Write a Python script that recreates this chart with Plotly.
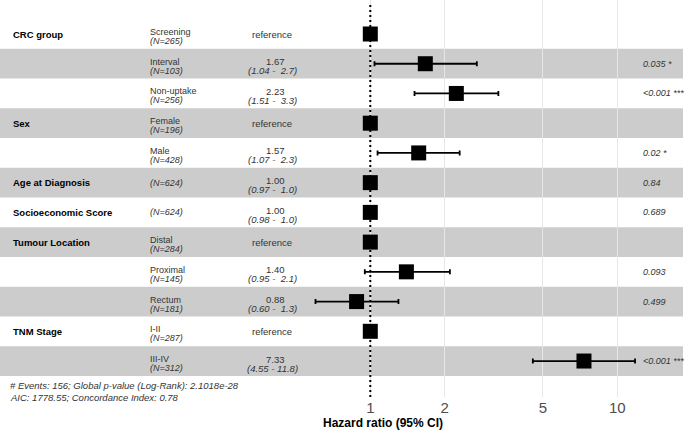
import math
import plotly.graph_objects as go

# ---- data ----
variables = ["CRC group", "", "", "Sex", "", "Age at Diagnosis", "Socioeconomic Score",
             "Tumour Location", "", "", "TNM Stage", ""]
levels = ["Screening", "Interval", "Non-uptake", "Female", "Male", "", "",
          "Distal", "Proximal", "Rectum", "I-II", "III-IV"]
n_obs = [265, 103, 256, 196, 428, 624, 624, 284, 145, 181, 287, 312]
hr = [1.00, 1.67, 2.23, 1.00, 1.57, 1.00, 1.00, 1.00, 1.40, 0.88, 1.00, 7.33]
ci_low = [None, 1.04, 1.51, None, 1.07, 0.97, 0.98, None, 0.95, 0.60, None, 4.55]
ci_high = [None, 2.7, 3.3, None, 2.3, 1.0, 1.0, None, 2.1, 1.3, None, 11.8]
p_labels = ["", "0.035 *", "<0.001 ***", "", "0.02 *", "0.84", "0.689", "",
            "0.093", "0.499", "", "<0.001 ***"]
tick_vals = [1, 2, 5, 10]
footnote = ["# Events: 156; Global p-value (Log-Rank): 2.1018e-28",
            "AIC: 1778.55; Concordance Index: 0.78"]
x_title = "Hazard ratio (95% CI)"

# ---- layout geometry ----
W, H = 688, 433
PLOT_BOTTOM = 397            # pixel y of plot-area bottom
PX_ONE, PX_PER_DEC = 370.3, 247.0
x_range = [(0 - PX_ONE) / PX_PER_DEC, (W - PX_ONE) / PX_PER_DEC]
ROW0, ROWH = 34.0, 29.73
y_range = [1 + (PLOT_BOTTOM - ROW0) / ROWH, 1 - ROW0 / ROWH]

def px(xp):
    return xp / W

def py(yp):
    return (PLOT_BOTTOM - yp) / PLOT_BOTTOM

rows = list(range(1, len(levels) + 1))
FONT = "Liberation Sans, Arial, sans-serif"
NB = "\u00a0"
TXT = "#333333"

fig = go.Figure()

err_plus = [(h - e) if h is not None else None for h, e in zip(ci_high, hr)]
err_minus = [(e - l) if l is not None else None for l, e in zip(ci_low, hr)]

fig.add_trace(go.Scatter(
    x=hr, y=rows, mode="markers",
    marker=dict(symbol="square", size=15, color="black", line=dict(width=0)),
    error_x=dict(type="data", symmetric=False, array=err_plus, arrayminus=err_minus,
                 color="black", thickness=1.8, width=2.5),
    hoverinfo="skip", showlegend=False,
))

shapes = []
for r in rows:
    if r % 2 == 0:
        shapes.append(dict(type="rect", xref="paper", yref="y",
                           x0=0, x1=px(683), y0=r - 0.5, y1=r + 0.5,
                           fillcolor="rgba(0,0,0,0.2)", line=dict(width=0),
                           layer="between"))
shapes.append(dict(type="line", xref="x", yref="paper", x0=1, x1=1, y0=0, y1=0.993,
                   line=dict(color="black", width=2, dash="2px,3px"), layer="above"))

ann = []
def add(text, xp, yrow, yshift=0, anchor="left", size=9, color=TXT, bold=False, italic=False):
    t = text
    if bold:
        t = "<b>" + t + "</b>"
    if italic:
        t = "<i>" + t + "</i>"
    ann.append(dict(text=t, x=px(xp), xref="paper", y=yrow, yref="y", yshift=yshift,
                    xanchor=anchor, yanchor="middle", showarrow=False,
                    font=dict(size=size, color=color, family=FONT)))

for i, r in enumerate(rows):
    if variables[i]:
        add(variables[i], 11, r, 0, "left", 9.5, "black", bold=True)
    nlab = f"(N={n_obs[i]})"
    if levels[i]:
        add(levels[i], 148, r, 2, "left", 9)
        add(nlab, 148, r, -7, "left", 9, italic=True)
    else:
        add(nlab, 148, r, 0, "left", 9, italic=True)
    if ci_low[i] is None:
        add("reference", 271.5, r, 0, "center", 9.5)
    else:
        lo_s = f"{ci_low[i]:.2f}"
        hi_s = f"{ci_high[i]:.1f}"
        hi_s = hi_s if len(hi_s) >= 4 else NB + hi_s
        add(f"{hr[i]:.2f}", 275, r, 2, "center", 9.5)
        add(f"({lo_s} -{NB}{hi_s})", 272, r, -7, "center", 9.5, italic=True)
    if p_labels[i]:
        add(p_labels[i], 641, r, 0, "left", 9, TXT, italic=True)

for k, line in enumerate(footnote):
    ann.append(dict(text="<i>" + line + "</i>", x=px(8), xref="paper", y=py(385.7 + 11.3 * k),
                    yref="paper", xanchor="left", yanchor="middle", showarrow=False,
                    font=dict(size=9.5, color=TXT, family=FONT)))
ann.append(dict(text="<b>" + x_title + "</b>", x=px(383), xref="paper", y=py(423), yref="paper",
                xanchor="center", yanchor="middle", showarrow=False,
                font=dict(size=12, color="black", family=FONT)))

fig.update_layout(
    width=W, height=H,
    margin=dict(l=0, r=0, t=0, b=H - PLOT_BOTTOM, pad=0),
    paper_bgcolor="white", plot_bgcolor="white",
    xaxis=dict(type="log", range=x_range, tickvals=tick_vals,
               ticktext=[str(v) for v in tick_vals], showgrid=True,
               gridcolor="#e6e6e6", gridwidth=1, zeroline=False, showline=False,
               ticks="", tickfont=dict(size=15, color="#4d4d4d", family=FONT)),
    yaxis=dict(range=y_range, visible=False, showgrid=False, zeroline=False),
    shapes=shapes, annotations=ann,
)

fig.write_html("out.html", config={"displayModeBar": False, "staticPlot": True},
               post_script="document.body.style.margin='0';document.body.style.overflow='hidden';")
